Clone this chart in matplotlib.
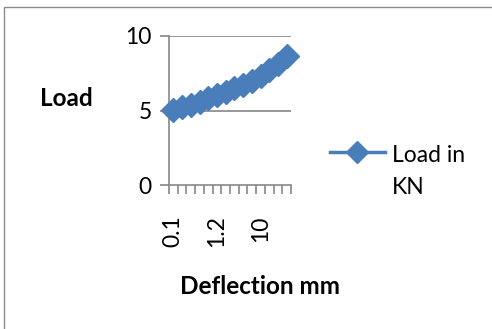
import matplotlib
matplotlib.use("Agg")
import matplotlib.pyplot as plt
from matplotlib.patches import Rectangle
from matplotlib.lines import Line2D
import numpy as np

plt.rcParams['font.family'] = ['Lato', 'DejaVu Sans']

deflection = ["0.1", "0.2", "0.4", "0.6", "0.8", "1.2", "1.6", "2", "4", "6",
              "10", "12", "14", "16"]
load = [5.03, 5.21, 5.37, 5.59, 5.82, 6.04, 6.26, 6.49, 6.71, 7.0,
        7.32, 7.72, 8.12, 8.66]
yticks = [0, 5, 10]
series_lines = ["Load in", "KN"]

BLUE = "#4A7EBB"
GRAY = "#868686"
W, H = 492, 329

fig = plt.figure(figsize=(4.92, 3.29), dpi=100)
fig.patches.append(Rectangle((4/W, -0.1), 1.2, 1 - 7/H + 0.1,
                             transform=fig.transFigure, fill=False,
                             edgecolor="#8c8c8c", linewidth=1.0))

ax = fig.add_axes([169/W, 1 - 185/H, 122/W, 149/H])
x = np.arange(len(deflection))
ax.plot(x, load, color=BLUE, lw=2.5, marker="D", markersize=12,
        markerfacecolor=BLUE, markeredgecolor=BLUE, clip_on=False, zorder=3)

ax.set_xlim(-0.5, len(deflection) - 0.5)
ax.set_ylim(0, 10)
ax.set_yticks(yticks)
ax.set_yticklabels([str(v) for v in yticks], fontsize=16.5)
for v in yticks[1:]:
    ax.axhline(v, color=GRAY, lw=1.2, zorder=0)

# category ticks at boundaries, labels every 5th category
ax.set_xticks(np.arange(-0.5, len(deflection)), minor=False)
ax.set_xticklabels([])
lab_idx = list(range(0, len(deflection), 5))
ax.set_xticks(lab_idx, minor=True)
ax.set_xticklabels([deflection[i] for i in lab_idx], minor=True,
                   rotation=90, fontsize=16.5, va="top", ha="center")
ax.tick_params(axis="x", which="major", length=6.5, width=1.2, color=GRAY,
               direction="out")
ax.tick_params(axis="x", which="minor", length=0, pad=22)
ax.tick_params(axis="y", length=6.5, width=1.2, color=GRAY, pad=6)

for s in ["top", "right"]:
    ax.spines[s].set_visible(False)
for s in ["left", "bottom"]:
    ax.spines[s].set_color(GRAY)
    ax.spines[s].set_linewidth(1.2)

fig.text(66/W, 1 - 98/H, "Load", fontsize=17.5, fontweight="bold",
         ha="center", va="center")
fig.text(260/W, 1 - 286/H, "Deflection mm", fontsize=17.5,
         fontweight="bold", ha="center", va="center")

# legend (handle aligned with first text line, as in the reference)
ly = 1 - 152/H
fig.add_artist(Line2D([330/W, 385/W], [ly, ly], transform=fig.transFigure,
                      color=BLUE, lw=2.5))
fig.add_artist(Line2D([357/W], [ly], transform=fig.transFigure,
                      marker="D", markersize=11, color=BLUE))
fig.text(392/W, 1 - 162/H, series_lines[0], fontsize=16.5, ha="left",
         va="baseline")
fig.text(392/W, 1 - 194/H, series_lines[1], fontsize=16.5, ha="left",
         va="baseline")

fig.savefig("out.png", dpi=100)
